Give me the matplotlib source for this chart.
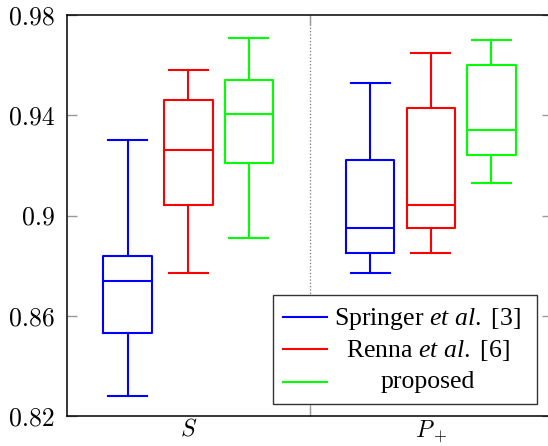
import matplotlib.pyplot as plt
from matplotlib.lines import Line2D
from matplotlib.patches import Rectangle

plt.rcParams['mathtext.fontset'] = 'custom'
plt.rcParams['mathtext.rm'] = 'Liberation Serif'
plt.rcParams['mathtext.it'] = 'Liberation Serif:italic'
plt.rcParams['font.family'] = 'Liberation Serif'

# данные: [нижний ус, Q1, медиана, Q3, верхний ус] для групп S и P+
groups = ["$S$", "$P_+$"]
methods = ["Springer $\\mathit{et}$ $\\mathit{al.}$ [3]",
           "Renna $\\mathit{et}$ $\\mathit{al.}$ [6]",
           "proposed"]
colors = ["#0000ff", "#ff0000", "#00ff00"]

springer = [[0.828, 0.853, 0.874, 0.884, 0.930],
            [0.877, 0.885, 0.895, 0.922, 0.953]]
renna = [[0.877, 0.904, 0.926, 0.946, 0.958],
         [0.885, 0.895, 0.904, 0.943, 0.965]]
proposed = [[0.891, 0.921, 0.9405, 0.954, 0.971],
            [0.913, 0.924, 0.934, 0.960, 0.970]]

yticks = [0.82, 0.86, 0.9, 0.94, 0.98]
ytick_labels = ["0.82", "0.86", "0.9", "0.94", "0.98"]

fig = plt.figure(figsize=(5.48, 4.46), dpi=100)
ax = fig.add_axes([67 / 548, 30 / 446, 485 / 548, 401 / 446])

offsets = [-0.25, 0.0, 0.25]
for k, (data, col) in enumerate(zip([springer, renna, proposed], colors)):
    stats = []
    for g, v in enumerate(data):
        stats.append(dict(whislo=v[0], q1=v[1], med=v[2], q3=v[3], whishi=v[4]))
    pos = [g + offsets[k] for g in range(len(groups))]
    lp = dict(color=col, linewidth=1.5)
    ax.bxp(stats, positions=pos, widths=0.2, capwidths=0.16, showfliers=False,
           boxprops=lp, medianprops=lp, whiskerprops=lp, capprops=lp,
           manage_ticks=False)

ax.set_xlim(-0.5, 1.5)
ax.set_ylim(0.82, 0.98)

ax.set_xticks(range(len(groups)))
ax.set_xticklabels(groups, math_fontfamily='cm', fontsize=17)
ax.set_xticks([0.5], minor=True)
ax.set_yticks(yticks)
ax.set_yticklabels(ytick_labels, fontfamily='cmr10', fontsize=18.5)

ax.tick_params(axis='x', which='major', length=0, pad=2)
ax.tick_params(axis='x', which='minor', direction='in', length=7, width=1,
               color='#999999', top=True, bottom=True)
ax.tick_params(axis='y', direction='in', length=7, width=1, color='#999999',
               left=True, right=True, pad=9)
ax.grid(True, axis='x', which='minor', linestyle=':', color='#777777', linewidth=0.9)

for s in ax.spines.values():
    s.set_linewidth(1.1)

# легенда вручную, текст по центру
ax.add_patch(Rectangle((0.425, 0.030), 0.544, 0.272, transform=ax.transAxes,
                       facecolor='white', edgecolor='#333333', linewidth=1.0,
                       zorder=5))
row_line = [0.247, 0.167, 0.085]
row_text = [0.227, 0.147, 0.070]
for lab, col, yl, yt in zip(methods, colors, row_line, row_text):
    ax.add_line(Line2D([0.445, 0.536], [yl, yl], color=col, linewidth=1.5,
                       transform=ax.transAxes, zorder=6))
    ax.text(0.744, yt, lab, transform=ax.transAxes, ha='center', va='baseline',
            fontsize=18.5, zorder=6)

fig.savefig("out.png", dpi=100)
